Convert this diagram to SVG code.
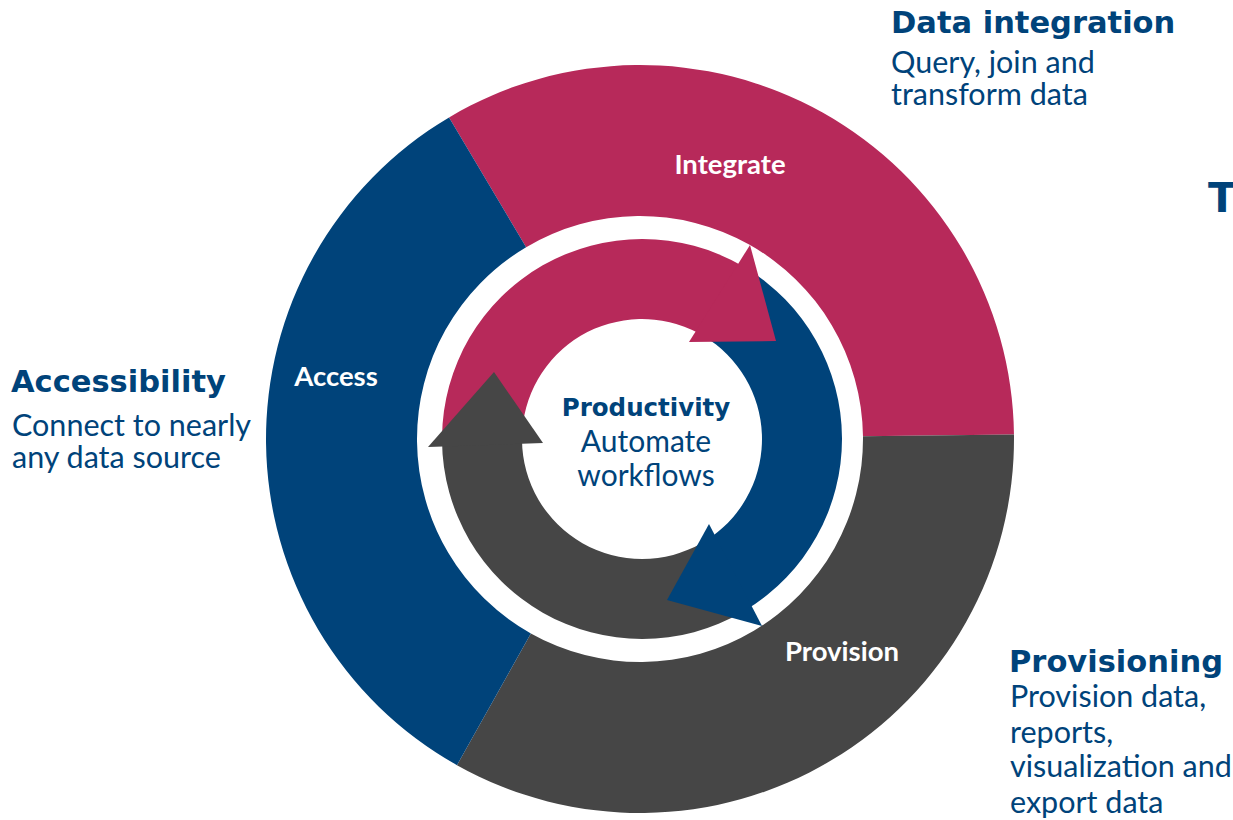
<svg xmlns="http://www.w3.org/2000/svg" width="1233" height="820" viewBox="0 0 1233 820">
<style>
.pink{fill:#B7295A}
.blue{fill:#00437A}
.gray{fill:#464646}
.seg-label{font-family:Lato,"Open Sans",sans-serif;font-weight:700;font-size:27.5px;fill:#FFFFFF;text-anchor:middle}
.head{font-family:"DejaVu Sans","Open Sans",sans-serif;font-weight:700;font-size:30.5px;fill:#00437A}
.body{font-family:Lato,"Open Sans",sans-serif;font-weight:400;font-size:30.5px;fill:#00437A}
.ctr-head{font-family:"DejaVu Sans","Open Sans",sans-serif;font-weight:700;font-size:24.5px;fill:#00437A;text-anchor:middle}
.ctr-body{font-family:Lato,"Open Sans",sans-serif;font-weight:400;font-size:30px;fill:#00437A;text-anchor:middle}
</style>
<rect width="1233" height="820" fill="#FFFFFF"/>

<g id="segment-integrate">
<path class="pink" d="M449.06 117.42 A374 374 0 0 1 1013.97 434.43 L862.98 436.28 A223 223 0 0 0 526.15 247.25 Z"/>
<text class="seg-label" x="730" y="174">Integrate</text>
</g>
<g id="segment-provision">
<path class="gray" d="M1013.97 434.43 A374 374 0 0 1 456.97 765.15 L530.87 633.47 A223 223 0 0 0 862.98 436.28 Z"/>
<text class="seg-label" x="842" y="661">Provision</text>
</g>
<g id="segment-access">
<path class="blue" d="M456.97 765.15 A374 374 0 0 1 449.06 117.42 L526.15 247.25 A223 223 0 0 0 530.87 633.47 Z"/>
<text class="seg-label" x="336" y="386">Access</text>
</g>

<g id="connectors">
<path class="pink" d="M442.01 437.25 A200 200 0 0 1 742 265.79 L698.34 333.05 A120 120 0 0 0 522 437.95 Z"/>
<path class="blue" d="M745.01 267.57 A200 200 0 0 1 746.5 609.53 L711.34 536.94 A120 120 0 0 0 703.8 336.14 Z"/>
<path class="gray" d="M742 612.21 A200 200 0 0 1 442.01 440.75 L522 440.05 A120 120 0 0 0 702 542.92 Z"/>
<polygon class="pink" points="750,245 776,341 689,342"/>
<polygon class="blue" points="709,524 762,626 667,600"/>
<polygon class="gray" points="428,447 494,372 543,443"/>
</g>

<g id="center-productivity">
<text class="ctr-head" x="646" y="416">Productivity</text>
<text class="ctr-body" x="646" y="452">Automate</text>
<text class="ctr-body" x="646" y="486">workflows</text>
</g>

<g id="label-data-integration">
<text class="head" x="891" y="33">Data integration</text>
<text class="body" x="891" y="73">Query, join and</text>
<text class="body" x="891" y="105">transform data</text>
</g>

<g id="label-accessibility">
<text class="head" x="11" y="392">Accessibility</text>
<text class="body" x="12" y="436">Connect to nearly</text>
<text class="body" x="12" y="468">any data source</text>
</g>

<g id="label-provisioning">
<text class="head" x="1009" y="672">Provisioning</text>
<text class="body" x="1010" y="707">Provision data,</text>
<text class="body" x="1010" y="743">reports,</text>
<text class="body" x="1010" y="777">visualization and</text>
<text class="body" x="1010" y="813">export data</text>
</g>

<g id="label-t">
<text class="head" x="1208" y="212" style="font-size:41px">T</text>
</g>
</svg>
